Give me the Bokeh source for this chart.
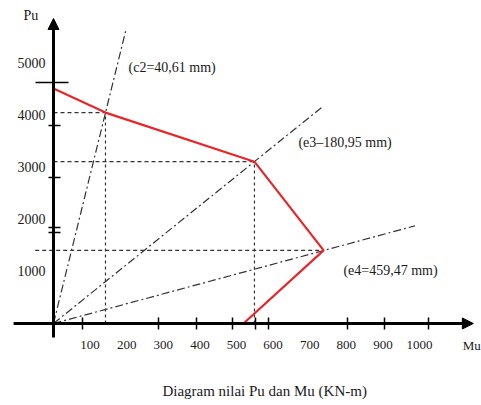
from bokeh.plotting import figure
from bokeh.models import Range1d, FixedTicker, Label, Arrow, NormalHead, TeeHead
from bokeh.embed import file_html
from bokeh.resources import INLINE

# Interaction diagram points (Mu in kN-m, Pu in kN)
mu_pts = [0, 142, 549, 738, 519]
pu_pts = [4500, 4040, 3100, 1400, 0]

# Tick labels
x_ticks = [100, 200, 300, 400, 500, 600, 700, 800, 900, 1000]
y_ticks = [1000, 2000, 3000, 4000, 5000]
# Hand-drawn tick marks on the axes
x_marks = [79, 287, 391, 489, 552, 588, 803, 905, 1025]
y_marks = [1743, 1839, 2797, 3793]
y_cap = [4617]

# Eccentricity rays from origin
ray_labels = ["(c2=40,61 mm)", "(e3\u2013180,95 mm)", "(e4=459,47 mm)"]
ray_mu_end = [197, 738, 987]
ray_pu_end = [5600, 4170, 1870]

# Guide lines to the axes for points 2..4
guide_idx = [1, 2, 3]
h_start = [0, 0, -50]
v_idx = [1, 2]

FONT = "Liberation Serif"
INK = "#1a1a1a"

p = figure(width=481, height=405, output_backend="svg", toolbar_location=None,
           x_range=Range1d(-144.8, 1169.3), y_range=Range1d(-1571, 6188),
           min_border_left=0, min_border_right=0, min_border_top=0, min_border_bottom=0)
p.outline_line_color = None
p.grid.visible = False
p.background_fill_color = "white"
p.border_fill_color = "white"

# Axes crossing at origin (lines drawn separately as arrows)
for ax in (p.xaxis[0], p.yaxis[0]):
    ax.fixed_location = 0
    ax.axis_line_color = None
    ax.major_tick_line_color = None
    ax.major_tick_in = 0
    ax.major_tick_out = 0
    ax.minor_tick_line_color = "black"
    ax.minor_tick_line_width = 1.5
    ax.major_label_text_font = FONT
    ax.major_label_text_color = INK

p.xaxis[0].ticker = FixedTicker(ticks=x_ticks, minor_ticks=x_marks)
p.xaxis[0].minor_tick_in = 6
p.xaxis[0].minor_tick_out = 6
p.xaxis[0].major_label_standoff = 12
p.xaxis[0].major_label_text_font_size = "13px"

p.yaxis[0].ticker = FixedTicker(ticks=y_ticks, minor_ticks=y_marks)
p.yaxis[0].minor_tick_in = 7
p.yaxis[0].minor_tick_out = 5
p.yaxis[0].major_label_standoff = 3
p.yaxis[0].major_label_text_font_size = "14px"

# axis lines with arrow heads
p.add_layout(Arrow(end=NormalHead(size=11, fill_color="black", line_color="black"),
                   start=TeeHead(size=0, line_alpha=0),
                   x_start=0, y_start=-268, x_end=0, y_end=5843, line_width=3, line_color="black"))
p.add_layout(Arrow(end=NormalHead(size=11, fill_color="black", line_color="black"),
                   start=TeeHead(size=0, line_alpha=0),
                   x_start=-109, y_start=0, x_end=1147, y_end=0, line_width=3, line_color="black"))

# long cap tick on the Pu axis
p.segment(x0=[-49], y0=y_cap, x1=[41], y1=y_cap, line_color="black", line_width=1.5)

# rays
p.segment(x0=[0] * len(ray_mu_end), y0=[0] * len(ray_mu_end), x1=ray_mu_end, y1=ray_pu_end,
          line_color="#333333", line_width=1.2, line_dash="8 3 2 3")

# horizontal guides
p.segment(x0=h_start, y0=[pu_pts[i] for i in guide_idx],
          x1=[mu_pts[i] for i in guide_idx], y1=[pu_pts[i] for i in guide_idx],
          line_color="#333333", line_width=1.2, line_dash="4 3")
# vertical guides
p.segment(x0=[mu_pts[i] for i in v_idx], y0=[0] * len(v_idx),
          x1=[mu_pts[i] for i in v_idx], y1=[pu_pts[i] for i in v_idx],
          line_color="#333333", line_width=1.2, line_dash="3 3")

# interaction curve
p.line(mu_pts, pu_pts, line_color="#e8262a", line_width=2.2)

# ray labels
label_pos = [(205, 4904), (669, 3467), (792, 1015)]
for txt, (lx, ly) in zip(ray_labels, label_pos):
    p.add_layout(Label(x=lx, y=ly, text=txt, text_font=FONT, text_font_size="14px",
                       text_color=INK, text_baseline="middle", text_align="left"))

p.add_layout(Label(x=-82, y=5900, text="Pu", text_font=FONT, text_font_size="14px",
                   text_color=INK, text_baseline="middle", text_align="left"))
p.add_layout(Label(x=1118, y=-421, text="Mu", text_font=FONT, text_font_size="13px",
                   text_color=INK, text_baseline="middle", text_align="left"))
p.add_layout(Label(x=582, y=-1284, text="Diagram nilai Pu dan Mu  (KN-m)", text_font=FONT,
                   text_font_size="15px", text_color=INK, text_baseline="middle", text_align="center"))

open("out.html", "w").write(file_html(p, INLINE))
